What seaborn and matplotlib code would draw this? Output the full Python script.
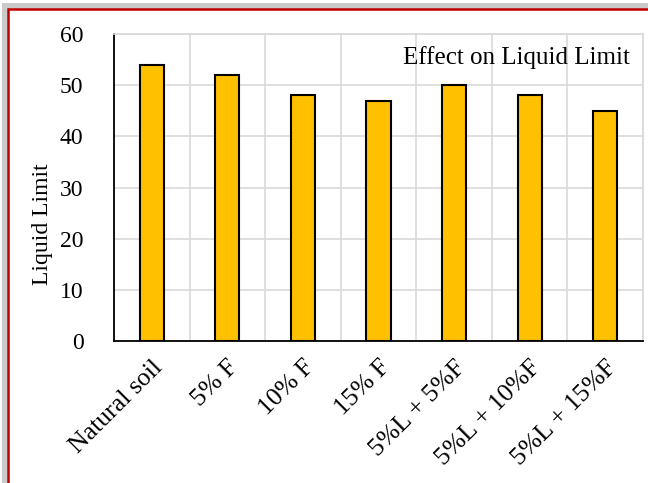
import matplotlib
matplotlib.use('Agg')
import matplotlib.pyplot as plt
import seaborn as sns
import pandas as pd
from matplotlib.patches import Rectangle

# Dados
categorias = ['Natural soil', '5% F', '10% F', '15% F', '5%L + 5%F', '5%L + 10%F', '5%L + 15%F']
liquid_limit = [54, 52, 48, 47, 50, 48, 45]

df = pd.DataFrame({'Categoria': categorias, 'LL': liquid_limit})

sns.set_style('white', {'text.color': 'black', 'axes.labelcolor': 'black',
                        'xtick.color': 'black', 'ytick.color': 'black'})
plt.rcParams['font.family'] = ['Liberation Serif', 'DejaVu Serif']

fig = plt.figure(figsize=(6.48, 4.83), dpi=100)
fig.patch.set_facecolor('white')

# moldura com sombra
for i, c in enumerate(['#f2f2f2', '#e4e4e4', '#d6d6d6', '#cacaca']):
    off = (8 - 2 * i) / 648
    offy = (9 - 2 * i) / 483
    fig.add_artist(Rectangle((off, -0.1), 1.2, 1.1 - offy, transform=fig.transFigure,
                             facecolor=c, edgecolor='none', zorder=0))
fig.add_artist(Rectangle((8 / 648, -0.1), 1.2, 1.1 - 9 / 483, transform=fig.transFigure,
                         facecolor='white', edgecolor='#c00000', linewidth=1.8, zorder=0))

ax = fig.add_axes([114 / 648, 1 - 341 / 483, (643 - 114) / 648, (341 - 34) / 483])
ax.set_facecolor('none')
sns.barplot(data=df, x='Categoria', y='LL', color='#FFC000', width=0.32,
            edgecolor='black', linewidth=1.5, saturation=1, ax=ax, zorder=3)

ax.set_ylim(0, 60)
ax.set_yticks(range(0, 61, 10))
ax.set_xlim(-0.5, 6.5)
ax.set_xticks([x - 0.5 for x in range(8)], minor=True)
ax.grid(True, which='minor', axis='x', color='#d9d9d9', linewidth=1.2, zorder=0)
ax.grid(True, which='major', axis='y', color='#d9d9d9', linewidth=1.2, zorder=0)
ax.tick_params(axis='x', which='minor', length=0)
ax.tick_params(axis='y', which='major', length=0, labelsize=17, pad=22)
ax.tick_params(axis='x', which='major', length=0, labelsize=18.5, pad=11)

for s in ['top', 'right']:
    ax.spines[s].set_color('#d9d9d9')
    ax.spines[s].set_linewidth(1.2)
for s in ['left', 'bottom']:
    ax.spines[s].set_color('black')
    ax.spines[s].set_linewidth(1.3)

plt.setp(ax.get_xticklabels(), rotation=45, ha='right', rotation_mode='anchor')
ax.set_xlabel('')
ax.set_ylabel('Liquid Limit', fontsize=17)
ax.yaxis.set_label_coords(-0.115, 0.38)
ax.text(0.975, 0.925, 'Effect on Liquid Limit', transform=ax.transAxes, ha='right', va='center',
        fontsize=18, zorder=5)

plt.savefig('out.png', dpi=100)
